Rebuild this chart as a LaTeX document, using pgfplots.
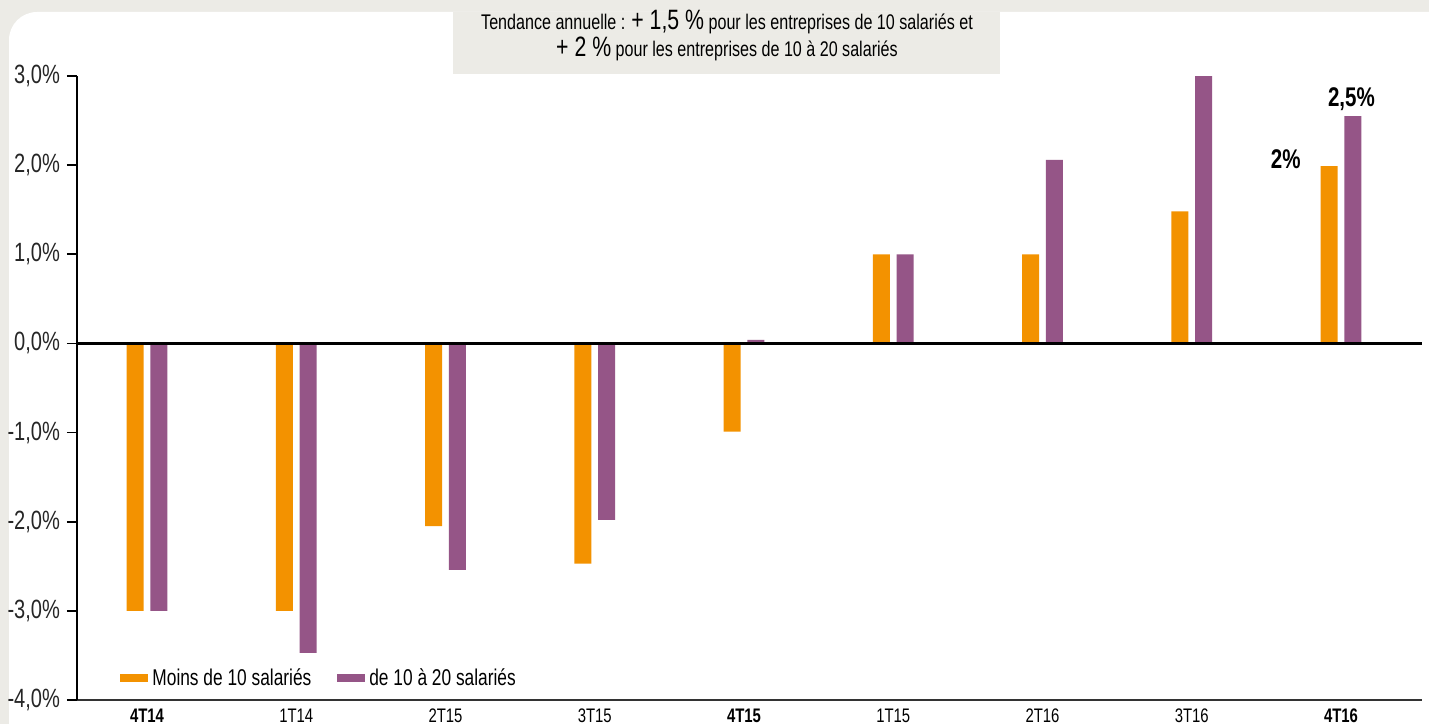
\documentclass[border=0pt]{standalone}
\usepackage{fontspec}
\setmainfont{Liberation Sans}[FakeStretch=0.76]
\usepackage{pgfplots}
\pgfplotsset{compat=1.18}
\definecolor{bggray}{HTML}{ECEBE6}
\definecolor{orangebar}{HTML}{F39200}
\definecolor{purplebar}{HTML}{955587}

\begin{document}
\begin{tikzpicture}[x=0.5pt,y=0.5pt]
% page background and white panel
\path[use as bounding box, fill=bggray] (0,0) rectangle (1429,724);
\fill[white] (9,0) -- (9,684) arc[start angle=180,end angle=90,radius=28] -- (1429,712) -- (1429,0) -- cycle;
% title box
\fill[bggray] (453,650) rectangle (1000,712);
\node[anchor=base, inner sep=0pt, font=\fontsize{10.6}{13}\selectfont] at (727,694)
  {Tendance annuelle : {\fontsize{14}{15}\selectfont + 1,5 \%} pour les entreprises de 10 salariés et};
\node[anchor=base, inner sep=0pt, font=\fontsize{10.6}{13}\selectfont] at (727,667)
  {{\fontsize{14}{15}\selectfont + 2 \%} pour les entreprises de 10 à 20 salariés};

\begin{axis}[
  at={(38.5pt,12pt)}, anchor=south west,
  scale only axis, width=672.5pt, height=312pt,
  xmin=-0.469, xmax=8.543, ymin=-4, ymax=3,
  axis x line*=bottom, axis y line*=left,
  x axis line style={draw=black!80, line width=1pt, -},
  y axis line style={black, line width=0.75pt, -},
  tick align=outside, major tick length=5pt,
  ytick={-4,-3,-2,-1,0,1,2,3},
  yticklabels={{-4,0\%},{-3,0\%},{-2,0\%},{-1,0\%},{0,0\%},{1,0\%},{2,0\%},{3,0\%}},
  ytick style={black, line width=0.9pt},
  yticklabel style={font=\fontsize{13.2}{13}\selectfont, text=black!85},
  xtick={0,...,8},
  xticklabels={\textbf{4T14},1T14,2T15,3T15,\textbf{4T15},1T15,2T16,3T16,\textbf{4T16}},
  xtick style={draw=none},
  xticklabel style={font=\fontsize{9.8}{10}\selectfont, text=black, yshift=4pt},
  ybar, bar width=8.5pt,
  clip=false,
  legend image code/.code={\fill[#1] (0pt,-2pt) rectangle (14pt,2pt);},
  legend columns=2,
  legend style={at={(0.032,0.035)}, anchor=west, draw=none, fill=none,
    inner sep=0pt, font=\fontsize{11.4}{12}\selectfont,
    /tikz/every even column/.append style={column sep=11pt}},
]
\addplot[fill=orangebar, draw=none, bar shift=-5.9pt] coordinates {
  (0,-3) (1,-3) (2,-2.05) (3,-2.47) (4,-0.99) (5,1.0) (6,1.0) (7,1.48) (8,1.99)};
\addplot[fill=purplebar, draw=none, bar shift=5.9pt] coordinates {
  (0,-3) (1,-3.47) (2,-2.54) (3,-1.98) (4,0.04) (5,1.0) (6,2.06) (7,3.0) (8,2.55)};
\legend{Moins de 10 salariés, de 10 à 20 salariés}
\draw[black, line width=1.3pt] (axis cs:-0.469,0) -- (axis cs:8.543,0);
\node[font=\bfseries\fontsize{13.5}{14}\selectfont] at (axis cs:7.63,2.07) {2\%};
\node[font=\bfseries\fontsize{13.5}{14}\selectfont] at (axis cs:8.07,2.74) {2,5\%};
\end{axis}
\end{tikzpicture}
\end{document}
